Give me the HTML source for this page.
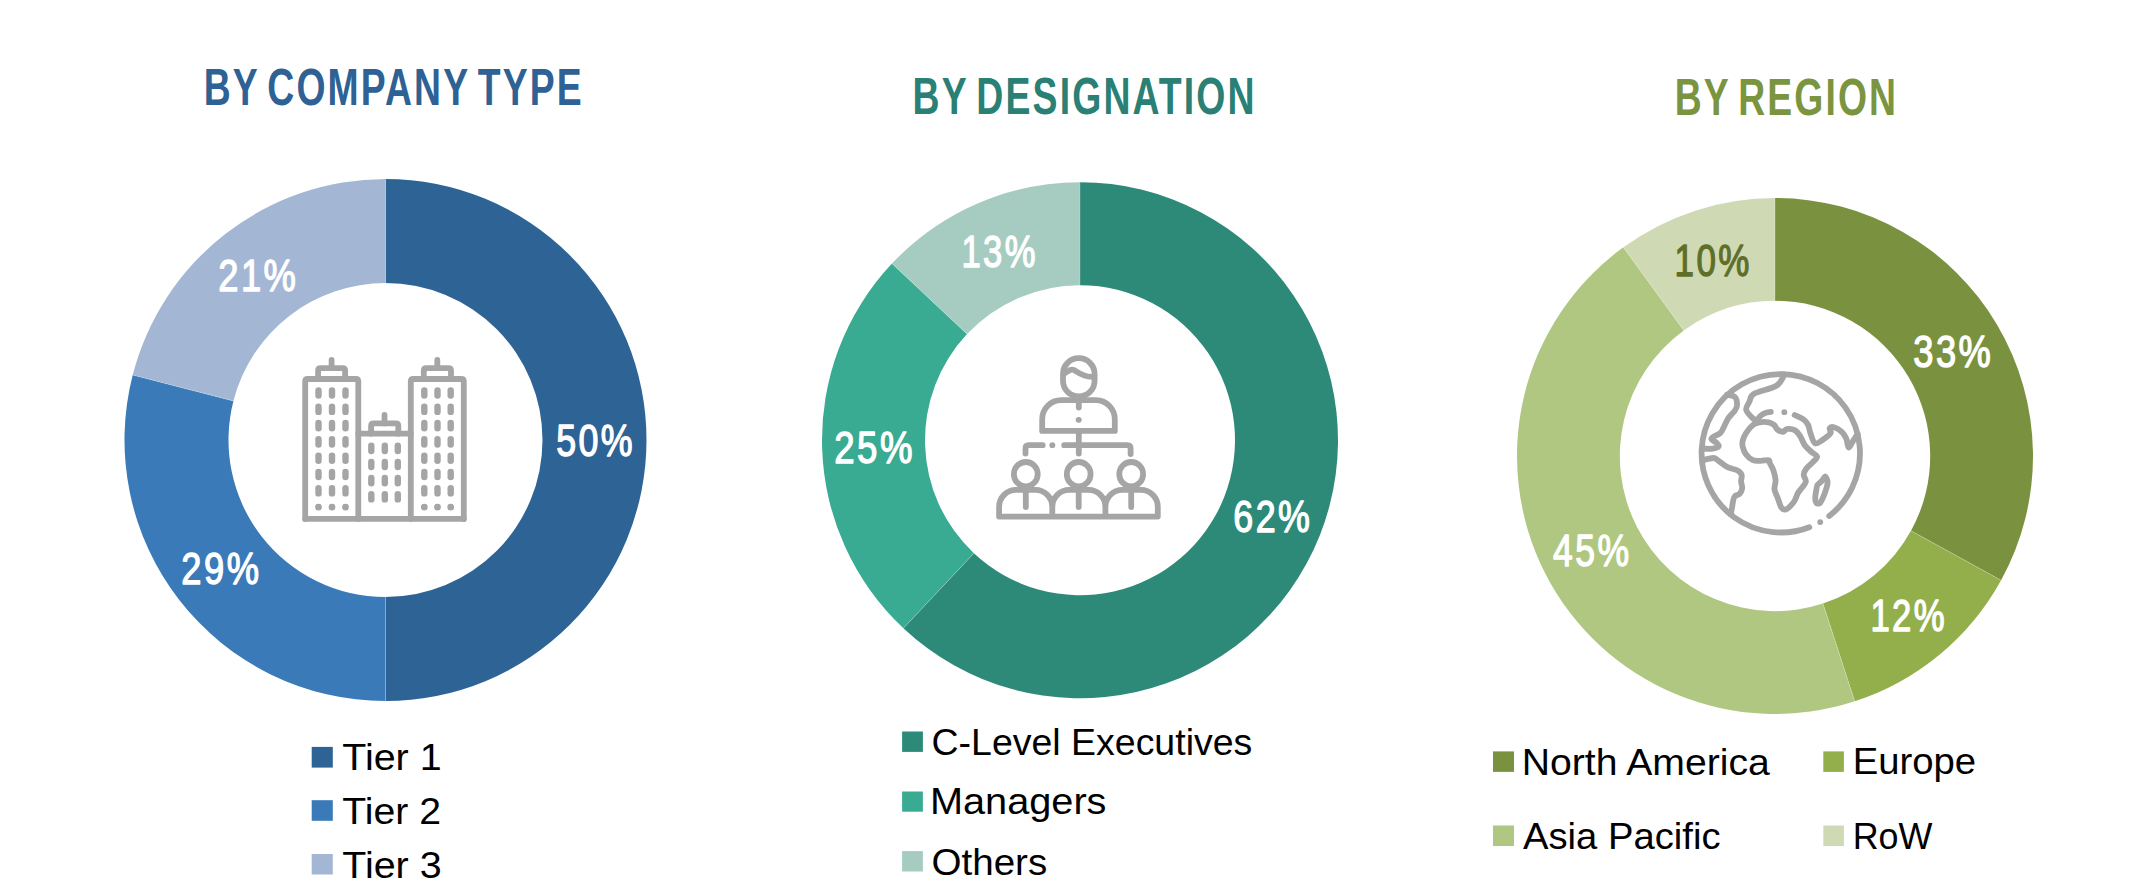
<!DOCTYPE html><html><head><meta charset="utf-8"><style>html,body{margin:0;padding:0;background:#fff;width:2145px;height:891px;overflow:hidden}svg{display:block}text{font-family:"Liberation Sans",sans-serif}</style></head><body>
<svg width="2145" height="891" viewBox="0 0 2145 891">
<rect width="2145" height="891" fill="#fff"/>
<path d="M385.50,179.00A261.0,261.0 0 0 1 385.50,701.00L385.50,597.00A157.0,157.0 0 0 0 385.50,283.00Z" fill="#2e6396"/>
<path d="M385.50,701.00A261.0,261.0 0 0 1 132.70,375.09L233.43,400.96A157.0,157.0 0 0 0 385.50,597.00Z" fill="#3a7ab8"/>
<path d="M132.70,375.09A261.0,261.0 0 0 1 385.50,179.00L385.50,283.00A157.0,157.0 0 0 0 233.43,400.96Z" fill="#a3b7d4"/>
<line x1="385.50" y1="179.00" x2="385.50" y2="283.00" stroke="#fff" stroke-opacity="0.22" stroke-width="1.0"/>
<line x1="385.50" y1="701.00" x2="385.50" y2="597.00" stroke="#fff" stroke-opacity="0.22" stroke-width="1.0"/>
<line x1="132.70" y1="375.09" x2="233.43" y2="400.96" stroke="#fff" stroke-opacity="0.22" stroke-width="1.0"/>
<path d="M1080.00,182.20A258.0,258.0 0 1 1 903.39,628.27L973.90,553.19A155.0,155.0 0 1 0 1080.00,285.20Z" fill="#2d8a79"/>
<path d="M903.39,628.27A258.0,258.0 0 0 1 891.93,263.59L967.01,334.10A155.0,155.0 0 0 0 973.90,553.19Z" fill="#3aab93"/>
<path d="M891.93,263.59A258.0,258.0 0 0 1 1080.00,182.20L1080.00,285.20A155.0,155.0 0 0 0 967.01,334.10Z" fill="#a6ccc1"/>
<line x1="1080.00" y1="182.20" x2="1080.00" y2="285.20" stroke="#fff" stroke-opacity="0.22" stroke-width="1.0"/>
<line x1="903.39" y1="628.27" x2="973.90" y2="553.19" stroke="#fff" stroke-opacity="0.22" stroke-width="1.0"/>
<line x1="891.93" y1="263.59" x2="967.01" y2="334.10" stroke="#fff" stroke-opacity="0.22" stroke-width="1.0"/>
<path d="M1775.00,198.00A258.0,258.0 0 0 1 2001.09,580.29L1911.00,530.77A155.2,155.2 0 0 0 1775.00,300.80Z" fill="#7a923f"/>
<path d="M2001.09,580.29A258.0,258.0 0 0 1 1854.73,701.37L1822.96,603.60A155.2,155.2 0 0 0 1911.00,530.77Z" fill="#93af4b"/>
<path d="M1854.73,701.37A258.0,258.0 0 0 1 1623.35,247.27L1683.78,330.44A155.2,155.2 0 0 0 1822.96,603.60Z" fill="#afc781"/>
<path d="M1623.35,247.27A258.0,258.0 0 0 1 1775.00,198.00L1775.00,300.80A155.2,155.2 0 0 0 1683.78,330.44Z" fill="#cfdab5"/>
<line x1="1775.00" y1="198.00" x2="1775.00" y2="300.80" stroke="#fff" stroke-opacity="0.22" stroke-width="1.0"/>
<line x1="2001.09" y1="580.29" x2="1911.00" y2="530.77" stroke="#fff" stroke-opacity="0.22" stroke-width="1.0"/>
<line x1="1854.73" y1="701.37" x2="1822.96" y2="603.60" stroke="#fff" stroke-opacity="0.22" stroke-width="1.0"/>
<line x1="1623.35" y1="247.27" x2="1683.78" y2="330.44" stroke="#fff" stroke-opacity="0.22" stroke-width="1.0"/>
<rect x="311.7" y="746.9" width="21.10" height="20.70" fill="#2e6396"/>
<rect x="311.7" y="800.2" width="21.10" height="20.60" fill="#3a7ab8"/>
<rect x="311.7" y="854.0" width="21.10" height="20.50" fill="#a3b7d4"/>
<rect x="902.1" y="731.5" width="20.80" height="20.40" fill="#2d8a79"/>
<rect x="902.1" y="791.5" width="20.80" height="20.20" fill="#3aab93"/>
<rect x="902.1" y="851.1" width="20.80" height="20.40" fill="#a6ccc1"/>
<rect x="1493.0" y="751.4" width="21.00" height="20.50" fill="#7a923f"/>
<rect x="1823.3" y="751.4" width="20.60" height="20.50" fill="#93af4b"/>
<rect x="1493.0" y="825.5" width="21.00" height="20.50" fill="#afc781"/>
<rect x="1823.3" y="825.5" width="20.60" height="20.50" fill="#cfdab5"/>
<g fill="none" stroke="#a5a5a5" stroke-width="5.8" stroke-linecap="round" stroke-linejoin="round">
<path d="M305.2,518.9 V381.5 Q305.2,379.0 307.7,379.0 H355.8 Q358.3,379.0 358.3,381.5 V518.9"/>
<path d="M410.79999999999995,518.9 V381.5 Q410.79999999999995,379.0 413.29999999999995,379.0 H461.3 Q463.8,379.0 463.8,381.5 V518.9"/>
<path d="M305.2,518.9 H463.8"/>
<path d="M358.3,433.7 H410.79999999999995"/>
<path d="M318.09999999999997,379.0 V370.59999999999997 Q318.09999999999997,368.09999999999997 320.59999999999997,368.09999999999997 H342.6 Q345.1,368.09999999999997 345.1,370.59999999999997 V379.0"/>
<path d="M331.6,368.09999999999997 V360.0"/>
<path d="M371.09999999999997,433.7 V425.9 Q371.09999999999997,423.4 373.59999999999997,423.4 H395.8 Q398.3,423.4 398.3,425.9 V433.7"/>
<path d="M384.5,423.4 V415.0"/>
<path d="M423.79999999999995,379.0 V370.59999999999997 Q423.79999999999995,368.09999999999997 426.29999999999995,368.09999999999997 H448.5 Q451.0,368.09999999999997 451.0,370.59999999999997 V379.0"/>
<path d="M437.3,368.09999999999997 V360.0"/>
</g>
<g stroke="#a5a5a5" stroke-width="6.4" stroke-linecap="round" fill="#a5a5a5">
<path d="M318.5,390.4 V395.6"/>
<path d="M332.0,390.4 V395.6"/>
<path d="M345.5,390.4 V395.6"/>
<path d="M318.5,406.7 V411.90000000000003"/>
<path d="M332.0,406.7 V411.90000000000003"/>
<path d="M345.5,406.7 V411.90000000000003"/>
<path d="M318.5,423.0 V428.20000000000005"/>
<path d="M332.0,423.0 V428.20000000000005"/>
<path d="M345.5,423.0 V428.20000000000005"/>
<path d="M318.5,439.29999999999995 V444.5"/>
<path d="M332.0,439.29999999999995 V444.5"/>
<path d="M345.5,439.29999999999995 V444.5"/>
<path d="M318.5,455.59999999999997 V460.8"/>
<path d="M332.0,455.59999999999997 V460.8"/>
<path d="M345.5,455.59999999999997 V460.8"/>
<path d="M318.5,471.9 V477.1"/>
<path d="M332.0,471.9 V477.1"/>
<path d="M345.5,471.9 V477.1"/>
<path d="M318.5,488.2 V493.40000000000003"/>
<path d="M332.0,488.2 V493.40000000000003"/>
<path d="M345.5,488.2 V493.40000000000003"/>
<circle cx="318.5" cy="507.1" r="3.4" stroke="none"/>
<circle cx="332.0" cy="507.1" r="3.4" stroke="none"/>
<circle cx="345.5" cy="507.1" r="3.4" stroke="none"/>
<path d="M424.3,390.4 V395.6"/>
<path d="M437.5,390.4 V395.6"/>
<path d="M450.7,390.4 V395.6"/>
<path d="M424.3,406.7 V411.90000000000003"/>
<path d="M437.5,406.7 V411.90000000000003"/>
<path d="M450.7,406.7 V411.90000000000003"/>
<path d="M424.3,423.0 V428.20000000000005"/>
<path d="M437.5,423.0 V428.20000000000005"/>
<path d="M450.7,423.0 V428.20000000000005"/>
<path d="M424.3,439.29999999999995 V444.5"/>
<path d="M437.5,439.29999999999995 V444.5"/>
<path d="M450.7,439.29999999999995 V444.5"/>
<path d="M424.3,455.59999999999997 V460.8"/>
<path d="M437.5,455.59999999999997 V460.8"/>
<path d="M450.7,455.59999999999997 V460.8"/>
<path d="M424.3,471.9 V477.1"/>
<path d="M437.5,471.9 V477.1"/>
<path d="M450.7,471.9 V477.1"/>
<path d="M424.3,488.2 V493.40000000000003"/>
<path d="M437.5,488.2 V493.40000000000003"/>
<path d="M450.7,488.2 V493.40000000000003"/>
<circle cx="424.3" cy="507.1" r="3.4" stroke="none"/>
<circle cx="437.5" cy="507.1" r="3.4" stroke="none"/>
<circle cx="450.7" cy="507.1" r="3.4" stroke="none"/>
<path d="M371.3,445.79999999999995 V451.0"/>
<path d="M384.8,445.79999999999995 V451.0"/>
<path d="M397.8,445.79999999999995 V451.0"/>
<path d="M371.3,461.9 V467.1"/>
<path d="M384.8,461.9 V467.1"/>
<path d="M397.8,461.9 V467.1"/>
<path d="M371.3,478.0 V483.20000000000005"/>
<path d="M384.8,478.0 V483.20000000000005"/>
<path d="M397.8,478.0 V483.20000000000005"/>
<path d="M371.3,494.2 V499.40000000000003"/>
<path d="M384.8,494.2 V499.40000000000003"/>
<path d="M397.8,494.2 V499.40000000000003"/>
</g>
<g fill="none" stroke="#a5a5a5" stroke-width="5.8" stroke-linecap="round" stroke-linejoin="round">
<path d="M1063.0,373.99999999999994 A15.799999999999955,15.799999999999955 0 0 1 1094.6,373.99999999999994 V380.70000000000005 A15.799999999999955,15.799999999999955 0 0 1 1063.0,380.70000000000005 Z"/>
<path d="M1064.5,373.5 C1068,371 1071,368.5 1074,370 C1079,373 1083,377 1092.5,376.8"/>
<path d="M1042.2,430.9 V419.2 A19,19 0 0 1 1061.2,400.2 H1095.8 A19,19 0 0 1 1114.8,419.2 V430.9 Z"/>
<path d="M1078.8,401 V407.5"/>
<path d="M1078.6,419.8 h0.2"/>
<path d="M1078.8,431 V453.6"/>
<path d="M1025.5,453.6 V448.5 Q1025.5,445.2 1028.8,445.2 H1042.7"/>
<path d="M1052.3,445.2 h0.1"/>
<path d="M1064.2,445.2 H1127.3 Q1130.6,445.2 1130.6,448.5 V454"/>
<ellipse cx="1025.8" cy="474.2" rx="11.9" ry="12.2"/>
<path d="M1025.8,491 V507"/>
<ellipse cx="1078.7" cy="474.2" rx="11.9" ry="12.2"/>
<path d="M1078.7,491 V507"/>
<ellipse cx="1131.2" cy="474.2" rx="11.9" ry="12.2"/>
<path d="M1131.2,491 V507"/>
<path d="M999.1,516.6 V506.9 A17,17 0 0 1 1016.1,489.9 H1035.3 A17,17 0 0 1 1052.3,506.9 V516.6 M1052.3,506.9 A17,17 0 0 1 1069.3,489.9 H1088.4 A17,17 0 0 1 1105.4,506.9 V516.6 M1105.4,506.9 A17,17 0 0 1 1122.4,489.9 H1140.8 A17,17 0 0 1 1157.8,506.9 V516.6 H999.1"/>
</g>
<g fill="none" stroke="#a5a5a5" stroke-width="5.8" stroke-linecap="round" stroke-linejoin="round">
<path d="M1809.31,527.19 A79.2,79.2 0 1 1 1829.23,515.96"/>
<path d="M1820.16,522.03 h0.1"/>
<path d="M1727.00,394.80 C1728.32,395.17 1733.22,395.32 1734.90,397.00 C1736.58,398.68 1737.10,402.65 1737.10,404.90 C1737.10,407.15 1736.38,408.25 1734.90,410.50 C1733.42,412.75 1730.07,415.60 1728.20,418.40 C1726.33,421.20 1725.02,424.87 1723.70,427.30 C1722.38,429.73 1722.18,431.32 1720.30,433.00 C1718.42,434.68 1713.80,436.28 1712.40,437.40 C1711.00,438.52 1711.15,438.75 1711.90,439.70 C1712.65,440.65 1715.78,441.98 1716.90,443.10 C1718.02,444.22 1719.35,445.47 1718.60,446.40 C1717.85,447.33 1715.00,448.32 1712.40,448.70 C1709.80,449.08 1704.57,448.70 1703.00,448.70"/>
<path d="M1703.00,460.20 C1704.77,459.83 1710.90,457.82 1713.60,458.00 C1716.30,458.18 1716.97,459.82 1719.20,461.30 C1721.43,462.78 1724.02,465.40 1727.00,466.90 C1729.98,468.40 1734.67,468.98 1737.10,470.30 C1739.53,471.62 1740.93,472.93 1741.60,474.80 C1742.27,476.67 1741.00,479.25 1741.10,481.50 C1741.20,483.75 1742.48,486.23 1742.20,488.30 C1741.92,490.37 1740.62,492.60 1739.40,493.90 C1738.18,495.20 1735.93,494.98 1734.90,496.10 C1733.87,497.22 1733.67,498.73 1733.20,500.60 C1732.73,502.47 1732.50,504.98 1732.10,507.30 C1731.70,509.62 1731.02,513.30 1730.80,514.50"/>
<path d="M1784.50,374.50 C1783.15,376.38 1781.48,382.60 1776.40,385.80 C1771.32,389.00 1758.48,391.08 1754.00,393.70 C1749.52,396.32 1750.82,398.88 1749.50,401.50 C1748.18,404.12 1745.92,406.97 1746.10,409.40 C1746.28,411.83 1748.92,414.13 1750.60,416.10 C1752.28,418.07 1755.27,420.35 1756.20,421.20"/>
<path d="M1757.3,419.5 Q1762,412.5 1770.8,411.9"/>
<path d="M1784.3,412.2 h0.1"/>
<path d="M1752.90,425.10 C1755.15,423.32 1756.98,422.77 1759.60,422.30 C1762.22,421.83 1766.17,421.83 1768.60,422.30 C1771.03,422.77 1772.72,423.88 1774.20,425.10 C1775.68,426.32 1776.00,428.48 1777.50,429.60 C1779.00,430.72 1781.65,431.90 1783.20,431.80 C1784.75,431.70 1784.88,429.28 1786.80,429.00 C1788.72,428.72 1792.45,428.88 1794.70,430.10 C1796.95,431.32 1798.62,433.77 1800.30,436.30 C1801.98,438.83 1802.93,442.68 1804.80,445.30 C1806.67,447.92 1809.45,450.12 1811.50,452.00 C1813.55,453.88 1816.92,454.87 1817.10,456.60 C1817.28,458.33 1814.47,460.30 1812.60,462.40 C1810.73,464.50 1807.38,467.13 1805.90,469.20 C1804.42,471.27 1803.70,472.75 1803.70,474.80 C1803.70,476.85 1806.10,479.45 1805.90,481.50 C1805.70,483.55 1803.80,485.23 1802.50,487.10 C1801.20,488.97 1799.40,490.45 1798.10,492.70 C1796.80,494.95 1796.02,498.35 1794.70,500.60 C1793.38,502.85 1791.70,504.70 1790.20,506.20 C1788.70,507.70 1787.20,509.42 1785.70,509.60 C1784.20,509.78 1782.50,509.17 1781.20,507.30 C1779.90,505.43 1779.02,501.38 1777.90,498.40 C1776.78,495.42 1774.88,492.40 1774.50,489.40 C1774.12,486.40 1775.78,483.58 1775.60,480.40 C1775.42,477.22 1774.33,473.10 1773.40,470.30 C1772.47,467.50 1770.80,465.28 1770.00,463.60 C1769.20,461.92 1770.15,460.67 1768.60,460.20 C1767.05,459.73 1763.32,460.80 1760.70,460.80 C1758.08,460.80 1755.33,461.23 1752.90,460.20 C1750.47,459.17 1747.80,456.85 1746.10,454.60 C1744.40,452.35 1743.27,449.00 1742.70,446.70 C1742.13,444.40 1742.13,443.08 1742.70,440.80 C1743.27,438.52 1744.40,435.62 1746.10,433.00 C1747.80,430.38 1750.65,426.88 1752.90,425.10Z"/>
<path d="M1794.70,415.00 C1796.20,415.75 1801.45,417.82 1803.70,419.50 C1805.95,421.18 1807.08,422.85 1808.20,425.10 C1809.32,427.35 1809.28,430.00 1810.40,433.00 C1811.52,436.00 1812.83,441.98 1814.90,443.10 C1816.97,444.22 1820.18,441.38 1822.80,439.70 C1825.42,438.02 1829.48,434.87 1830.60,433.00 C1831.72,431.13 1828.93,429.45 1829.50,428.50 C1830.07,427.55 1831.95,426.75 1834.00,427.30 C1836.05,427.85 1839.75,429.92 1841.80,431.80 C1843.85,433.68 1845.17,435.98 1846.30,438.60 C1847.43,441.22 1847.47,447.13 1848.60,447.50 C1849.73,447.87 1851.62,443.05 1853.10,440.80 C1854.58,438.55 1856.77,435.13 1857.50,434.00"/>
<path d="M1825.20,476.50 C1825.78,476.55 1827.48,480.32 1827.60,481.50 C1827.72,482.68 1826.84,486.73 1826.40,488.30 C1825.96,489.87 1823.86,495.70 1823.20,497.20 C1822.54,498.70 1820.49,502.72 1819.80,503.30 C1819.11,503.88 1816.76,503.48 1816.30,503.00 C1815.84,502.52 1815.21,499.75 1815.20,498.50 C1815.19,497.25 1815.97,491.86 1816.20,490.50 C1816.43,489.14 1816.94,485.85 1817.50,484.90 C1818.06,483.95 1821.03,481.84 1821.80,481.00 C1822.57,480.16 1824.62,476.45 1825.20,476.50Z"/>
</g>
<text transform="translate(203.64,105.16) scale(0.7097,1)" font-size="52.60" font-weight="bold" fill="#2e6194" letter-spacing="3.0" word-spacing="-6">BY COMPANY TYPE</text>
<text transform="translate(912.58,114.40) scale(0.7110,1)" font-size="52.60" font-weight="bold" fill="#2a8074" letter-spacing="3.0" word-spacing="-6">BY DESIGNATION</text>
<text transform="translate(1674.70,114.84) scale(0.7090,1)" font-size="52.60" font-weight="bold" fill="#7b9440" letter-spacing="3.0" word-spacing="-6">BY REGION</text>
<text transform="translate(556.26,456.12) scale(0.8041,1)" font-size="44.50" font-weight="normal" fill="#fff" stroke="#fff" stroke-width="1.35" stroke-linejoin="round" letter-spacing="3.0">50%</text>
<text transform="translate(181.32,584.20) scale(0.8167,1)" font-size="44.50" font-weight="normal" fill="#fff" stroke="#fff" stroke-width="1.35" stroke-linejoin="round" letter-spacing="3.0">29%</text>
<text transform="translate(218.30,291.00) scale(0.8168,1)" font-size="44.50" font-weight="normal" fill="#fff" stroke="#fff" stroke-width="1.35" stroke-linejoin="round" letter-spacing="3.0">21%</text>
<text transform="translate(1233.30,532.20) scale(0.8055,1)" font-size="44.50" font-weight="normal" fill="#fff" stroke="#fff" stroke-width="1.35" stroke-linejoin="round" letter-spacing="3.0">62%</text>
<text transform="translate(834.30,463.32) scale(0.8219,1)" font-size="44.50" font-weight="normal" fill="#fff" stroke="#fff" stroke-width="1.35" stroke-linejoin="round" letter-spacing="3.0">25%</text>
<text transform="translate(961.48,267.02) scale(0.7783,1)" font-size="44.50" font-weight="normal" fill="#fff" stroke="#fff" stroke-width="1.35" stroke-linejoin="round" letter-spacing="3.0">13%</text>
<text transform="translate(1913.30,367.48) scale(0.8159,1)" font-size="44.50" font-weight="normal" fill="#fff" stroke="#fff" stroke-width="1.35" stroke-linejoin="round" letter-spacing="3.0">33%</text>
<text transform="translate(1870.44,631.00) scale(0.7810,1)" font-size="44.50" font-weight="normal" fill="#fff" stroke="#fff" stroke-width="1.35" stroke-linejoin="round" letter-spacing="3.0">12%</text>
<text transform="translate(1553.08,566.00) scale(0.7996,1)" font-size="44.50" font-weight="normal" fill="#fff" stroke="#fff" stroke-width="1.35" stroke-linejoin="round" letter-spacing="3.0">45%</text>
<text transform="translate(1674.58,275.98) scale(0.7859,1)" font-size="44.50" font-weight="normal" fill="#5f6f2a" stroke="#5f6f2a" stroke-width="1.35" stroke-linejoin="round" letter-spacing="3.0">10%</text>
<text transform="translate(342.26,770.30) scale(1.0487,1)" font-size="37.60" font-weight="normal" fill="#000">Tier 1</text>
<text transform="translate(342.26,823.96) scale(1.0433,1)" font-size="37.60" font-weight="normal" fill="#000">Tier 2</text>
<text transform="translate(342.26,878.22) scale(1.0487,1)" font-size="37.60" font-weight="normal" fill="#000">Tier 3</text>
<text transform="translate(931.52,754.64) scale(0.9970,1)" font-size="37.60" font-weight="normal" fill="#000">C-Level Executives</text>
<text transform="translate(929.92,814.36) scale(1.0565,1)" font-size="37.60" font-weight="normal" fill="#000">Managers</text>
<text transform="translate(931.52,875.26) scale(1.0255,1)" font-size="37.60" font-weight="normal" fill="#000">Others</text>
<text transform="translate(1521.78,775.38) scale(1.0414,1)" font-size="37.60" font-weight="normal" fill="#000">North America</text>
<text transform="translate(1852.70,774.28) scale(1.0186,1)" font-size="37.60" font-weight="normal" fill="#000">Europe</text>
<text transform="translate(1523.02,849.40) scale(1.0166,1)" font-size="37.60" font-weight="normal" fill="#000">Asia Pacific</text>
<text transform="translate(1852.70,848.60) scale(0.9549,1)" font-size="37.60" font-weight="normal" fill="#000">RoW</text>
</svg></body></html>
